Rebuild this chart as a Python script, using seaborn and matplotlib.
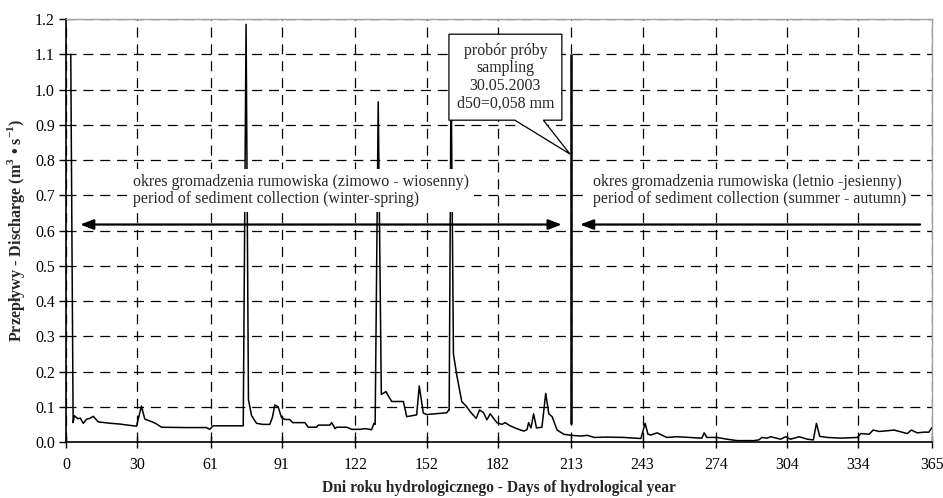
import matplotlib
matplotlib.use("Agg")
from matplotlib import pyplot as plt
from matplotlib.patches import Polygon
import pandas as pd
import seaborn as sns

# daily discharge (day of hydrological year, m3/s)
days = [2.0, 3.0, 3.5, 5, 6, 7.3, 8.7, 10, 11.5, 13.6, 16.4, 19, 22.7, 26,
        29.7, 31.8, 33.2, 36, 38, 40.2, 50, 59.2, 60.6, 62, 74.7, 75.9,
        76.9, 77.2, 78.2, 80.3, 83, 85.9, 87, 88, 89.4, 90.8, 92.2, 94.3,
        95.5, 100.7, 102.1, 105.6, 106.3, 111.2, 112, 113.4, 114.1, 118.3,
        120.4, 123.9, 126, 128.8, 129.8, 130.3, 131.6, 132.9, 134.9, 135.5,
        137.3, 142.2, 143.6, 147.8, 148.9, 150.6, 152, 160.5, 161.2, 161.5,
        162.3, 163.3, 164.7, 166.8, 168.9, 170.5, 172.9, 174.3, 176, 177.4,
        178.8, 181.6, 183.7, 185.1, 187.2, 190, 192.9, 194.3, 195, 196,
        197.1, 198.3, 200.6, 202.2, 203.5, 204.9, 207, 209.8, 211.9, 213,
        217, 219.8, 222.6, 228, 235, 242.3, 244.1, 245.3, 246.5, 249.2,
        253.2, 257.4, 263, 268, 269, 270.1, 274.4, 278.6, 282.9, 289.9, 292,
        293.4, 295.5, 297, 301.2, 303.3, 305.4, 309, 312.5, 315, 316.3,
        317.7, 320.9, 326.5, 333.6, 335, 338.5, 340.2, 342.7, 346.2, 349,
        354.6, 356.3, 358.8, 361.6, 363.7, 365]
flow = [1.10, 0.055, 0.075, 0.066, 0.068, 0.053, 0.065, 0.067, 0.073, 0.057,
        0.055, 0.053, 0.051, 0.048, 0.045, 0.102, 0.065, 0.058, 0.052, 0.042,
        0.041, 0.041, 0.036, 0.046, 0.046, 1.185, 0.12, 0.11, 0.075, 0.053,
        0.05, 0.05, 0.07, 0.105, 0.10, 0.07, 0.064, 0.064, 0.055, 0.055,
        0.042, 0.042, 0.048, 0.048, 0.055, 0.038, 0.042, 0.042, 0.036, 0.036,
        0.038, 0.035, 0.053, 0.05, 0.965, 0.135, 0.143, 0.135, 0.115, 0.115,
        0.072, 0.077, 0.159, 0.082, 0.078, 0.083, 0.09, 0.09, 1.05, 0.25,
        0.19, 0.115, 0.10, 0.085, 0.067, 0.091, 0.083, 0.063, 0.08, 0.055,
        0.05, 0.055, 0.046, 0.038, 0.031, 0.035, 0.055, 0.04, 0.08, 0.04,
        0.042, 0.138, 0.08, 0.072, 0.034, 0.022, 0.02, 0.019, 0.017, 0.019,
        0.013, 0.014, 0.013, 0.01, 0.053, 0.022, 0.02, 0.026, 0.013, 0.015,
        0.013, 0.011, 0.026, 0.013, 0.013, 0.008, 0.004, 0.004, 0.006, 0.013,
        0.011, 0.015, 0.008, 0.015, 0.008, 0.015, 0.008, 0.006, 0.053, 0.016,
        0.013, 0.011, 0.013, 0.024, 0.022, 0.034, 0.03, 0.032, 0.034, 0.024,
        0.034, 0.026, 0.028, 0.028, 0.041]

# sampling date marker
sampling_day = 213
sampling_range = [0.05, 1.1]

x_ticks = [0, 30, 61, 91, 122, 152, 182, 213, 243, 274, 304, 334, 365]
y_ticks = [0.0, 0.1, 0.2, 0.3, 0.4, 0.5, 0.6, 0.7, 0.8, 0.9, 1.0, 1.1, 1.2]

df = pd.DataFrame({'day': days, 'flow': flow})

sns.set_style("white")
plt.rcParams['font.family'] = ['Liberation Serif', 'DejaVu Serif']
plt.rcParams['mathtext.fontset'] = 'custom'
plt.rcParams['mathtext.rm'] = 'Liberation Serif'
plt.rcParams['mathtext.bf'] = 'Liberation Serif:bold'

fs = 11.4

fig = plt.figure(figsize=(9.43, 4.98), dpi=100)
ax = fig.add_axes([0.070, 0.1124, 0.9183, 0.8494])

sns.lineplot(data=df, x='day', y='flow', ax=ax, color='black',
             linewidth=1.1, estimator=None, sort=False, zorder=3)
ax.vlines(sampling_day, sampling_range[0], sampling_range[1],
          color='black', linewidth=1.8, zorder=3)

# axes
ax.set_xlim(0, 365)
ax.set_ylim(0, 1.2)
ax.set_xticks(x_ticks)
ax.set_yticks(y_ticks)
ax.set_yticklabels(["{:.1f}".format(v) for v in y_ticks])
ax.tick_params(axis='x', direction='inout', length=8, width=1,
               labelsize=fs, pad=7, colors='black', bottom=True)
ax.tick_params(axis='y', direction='out', length=5, width=1,
               labelsize=fs, pad=3, colors='black', left=True)
ax.grid(True, color='black', linestyle=(0, (8, 5.5)), linewidth=0.9,
        zorder=1)
ax.set_axisbelow(True)
for s in ['left', 'bottom']:
    ax.spines[s].set_color('black')
    ax.spines[s].set_linewidth(1.2)
for s in ['top', 'right']:
    ax.spines[s].set_color('#a0a0a0')
    ax.spines[s].set_linewidth(1.0)

ax.set_xlabel("Dni roku hydrologicznego - Days of hydrological year",
              fontsize=11.2, fontweight='bold', labelpad=5)
ax.set_ylabel("Przepływy - Discharge (m$^\\mathbf{3}$ • s$^\\mathbf{-1}$)",
              fontsize=11.6, fontweight='bold', labelpad=6)

# period annotations
ax.text(28.2, 0.713, "okres gromadzenia rumowiska (zimowo - wiosenny)\n"
        "period of sediment collection (winter-spring)",
        fontsize=fs, ha='left', va='center', linespacing=1.1, zorder=4,
        bbox=dict(boxstyle='square,pad=0.3', fc='white', ec='none'))
ax.text(222, 0.713, "okres gromadzenia rumowiska (letnio -jesienny)\n"
        "period of sediment collection (summer - autumn)",
        fontsize=fs, ha='left', va='center', linespacing=1.1, zorder=4,
        bbox=dict(boxstyle='square,pad=0.3', fc='white', ec='none'))

ax.annotate("", xy=(5.9, 0.617), xytext=(209, 0.617), zorder=5,
            arrowprops=dict(arrowstyle='<|-|>,head_length=0.8,head_width=0.3',
                            color='black', lw=1.6, shrinkA=0, shrinkB=0))
ax.annotate("", xy=(216.6, 0.617), xytext=(360, 0.617), zorder=5,
            arrowprops=dict(arrowstyle='-|>,head_length=0.8,head_width=0.3',
                            color='black', lw=1.6, shrinkA=0, shrinkB=0))

# callout for sampling
bubble = [(161.4, 1.157), (209, 1.157), (209, 0.913), (201.2, 0.913),
          (212.4, 0.817), (189.2, 0.913), (161.4, 0.913)]
ax.add_patch(Polygon(bubble, closed=True, fc='white', ec='black', lw=0.9,
                     zorder=4))
ax.text(185.2, 1.035, "probór próby\nsampling\n30.05.2003\nd50=0,058 mm",
        fontsize=fs, ha='center', va='center', linespacing=1.12, zorder=5)

plt.savefig("out.png", dpi=100)
